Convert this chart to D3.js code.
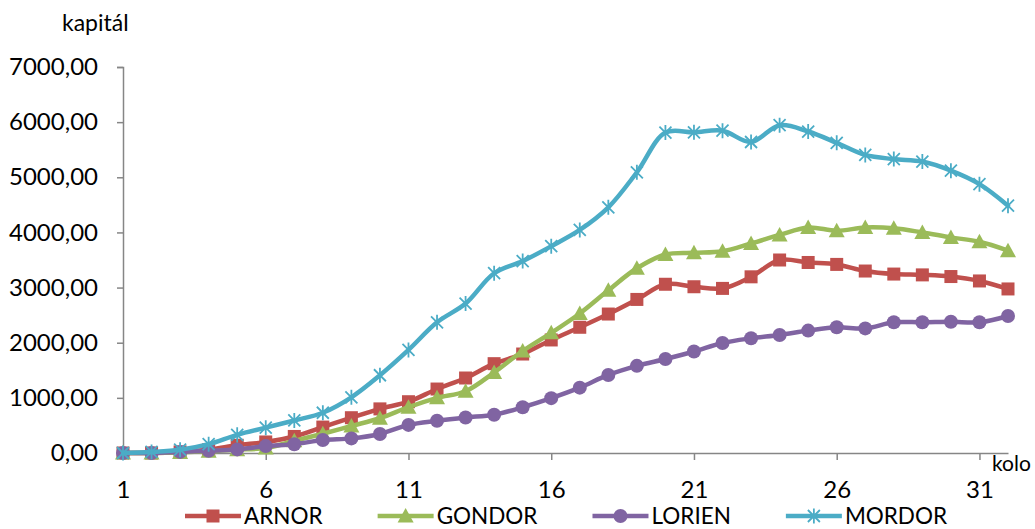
<!DOCTYPE html>
<html>
<head>
<meta charset="utf-8">
<script src="https://cdn.jsdelivr.net/npm/d3@7"></script>
<style>
  html, body { margin: 0; padding: 0; background: #fff; }
  svg { display: block; font-family: Lato, "Liberation Sans", sans-serif; }
</style>
</head>
<body>
<svg id="chart" width="1035" height="529"></svg>
<script>
// Rounds (kolo) 1..32
const rounds = d3.range(1, 33);
const seriesNames = ["ARNOR", "GONDOR", "LORIEN", "MORDOR"];
const seriesColors = ["#C0504D", "#9BBB59", "#8064A2", "#4BACC6"];
const seriesMarkers = ["square", "triangle", "circle", "star"];

const arnor = [0, 0, 20, 60, 140, 200, 300, 470, 640, 800, 930, 1160, 1360, 1620, 1795, 2050,
  2280, 2520, 2785, 3060, 3015, 2985, 3195, 3500, 3455, 3420, 3300, 3245, 3230, 3200, 3120, 2975];
const gondor = [0, 0, 10, 30, 60, 90, 220, 350, 490, 630, 830, 1000, 1120, 1460, 1850, 2180,
  2530, 2950, 3350, 3600, 3630, 3660, 3800, 3955, 4090, 4030, 4090, 4075, 4000, 3910, 3830, 3670];
const lorien = [0, 0, 20, 40, 65, 125, 160, 235, 265, 345, 510, 585, 645, 695, 830, 995,
  1185, 1415, 1580, 1705, 1840, 1995, 2080, 2140, 2220, 2280, 2260, 2370, 2370, 2380, 2370, 2485];
const mordor = [0, 20, 60, 160, 330, 460, 590, 730, 1010, 1410, 1870, 2370, 2710, 3260, 3480, 3750,
  4045, 4455, 5090, 5810, 5815, 5845, 5640, 5945, 5830, 5625, 5405, 5330, 5285, 5120, 4875, 4485];
const seriesValues = [arnor, gondor, lorien, mordor];

const yTicks = [0, 1000, 2000, 3000, 4000, 5000, 6000, 7000];
const xTickLabels = [1, 6, 11, 16, 21, 26, 31];

const svg = d3.select("#chart");
const axisColor = "#868686";
const fontFamily = "Lato, 'Liberation Sans', sans-serif";

const x = d3.scalePoint().domain(rounds).range([123, 1008]);
const y = d3.scaleLinear().domain([0, 7000]).range([453, 67]);

const fmt = v => d3.format(".2f")(v).replace(".", ",");

// Y axis
const yAxis = d3.axisLeft(y).tickValues(yTicks).tickSize(6).tickPadding(19).tickFormat(fmt);
const gy = svg.append("g").attr("transform", "translate(123,0)").call(yAxis);
gy.select(".domain").attr("stroke", axisColor).attr("stroke-width", 1.5);
gy.selectAll(".tick line").attr("stroke", axisColor).attr("stroke-width", 1.5);
gy.selectAll(".tick text").attr("fill", "#000").style("font-size", "24px")
  .style("font-family", fontFamily);

// X axis
const xAxis = d3.axisBottom(x).tickValues(xTickLabels).tickSize(7).tickPadding(21).tickSizeOuter(0);
const gx = svg.append("g").attr("transform", "translate(0,453)").call(xAxis);
gx.select(".domain").attr("stroke", axisColor).attr("stroke-width", 1.5);
gx.selectAll(".tick line").attr("stroke", axisColor).attr("stroke-width", 1.5);
gx.selectAll(".tick text").attr("fill", "#000").style("font-size", "24px")
  .style("font-family", fontFamily);

// Axis titles
svg.append("text").attr("x", 62).attr("y", 31)
  .style("font-size", "23px").text("kapitál");
svg.append("text").attr("x", 992).attr("y", 471)
  .style("font-size", "21px").text("kolo");

// Marker drawing
function drawMarker(g, type, color) {
  if (type === "square") {
    g.append("rect").attr("x", -6.5).attr("y", -6.5).attr("width", 13).attr("height", 13).attr("fill", color);
  } else if (type === "triangle") {
    g.append("path").attr("d", "M0,-8L8,6.5L-8,6.5Z").attr("fill", color);
  } else if (type === "circle") {
    g.append("circle").attr("r", 7).attr("fill", color);
  } else if (type === "star") {
    g.append("path").attr("d", "M-6,-6L6,6M-6,6L6,-6M0,-7.5L0,7.5")
      .attr("stroke", color).attr("stroke-width", 1.8).attr("fill", "none");
  }
}

const line = d3.line()
  .x((d, i) => x(rounds[i]))
  .y(d => y(d))
  .curve(d3.curveCatmullRom.alpha(0.5));

seriesValues.forEach((vals, s) => {
  const g = svg.append("g");
  g.append("path").datum(vals).attr("d", line)
    .attr("fill", "none").attr("stroke", seriesColors[s]).attr("stroke-width", 4.5)
    .attr("stroke-linejoin", "round").attr("stroke-linecap", "round");
  vals.forEach((v, i) => {
    const m = g.append("g").attr("transform", `translate(${x(rounds[i])},${y(v)})`);
    drawMarker(m, seriesMarkers[s], seriesColors[s]);
  });
});

// Legend: entries flow left to right with a fixed gap
const legend = svg.append("g").attr("transform", "translate(185,516)");
let cursor = 0;
seriesNames.forEach((name, s) => {
  const g = legend.append("g").attr("transform", `translate(${cursor},0)`);
  g.append("line").attr("x1", 0).attr("x2", 56).attr("y1", 0).attr("y2", 0)
    .attr("stroke", seriesColors[s]).attr("stroke-width", 4.5);
  const m = g.append("g").attr("transform", "translate(28,0)");
  drawMarker(m, seriesMarkers[s], seriesColors[s]);
  const t = g.append("text").attr("x", 59).attr("y", 8).style("font-size", "22.5px").text(name);
  cursor += 59 + t.node().getComputedTextLength() + 55;
});
</script>
</body>
</html>
